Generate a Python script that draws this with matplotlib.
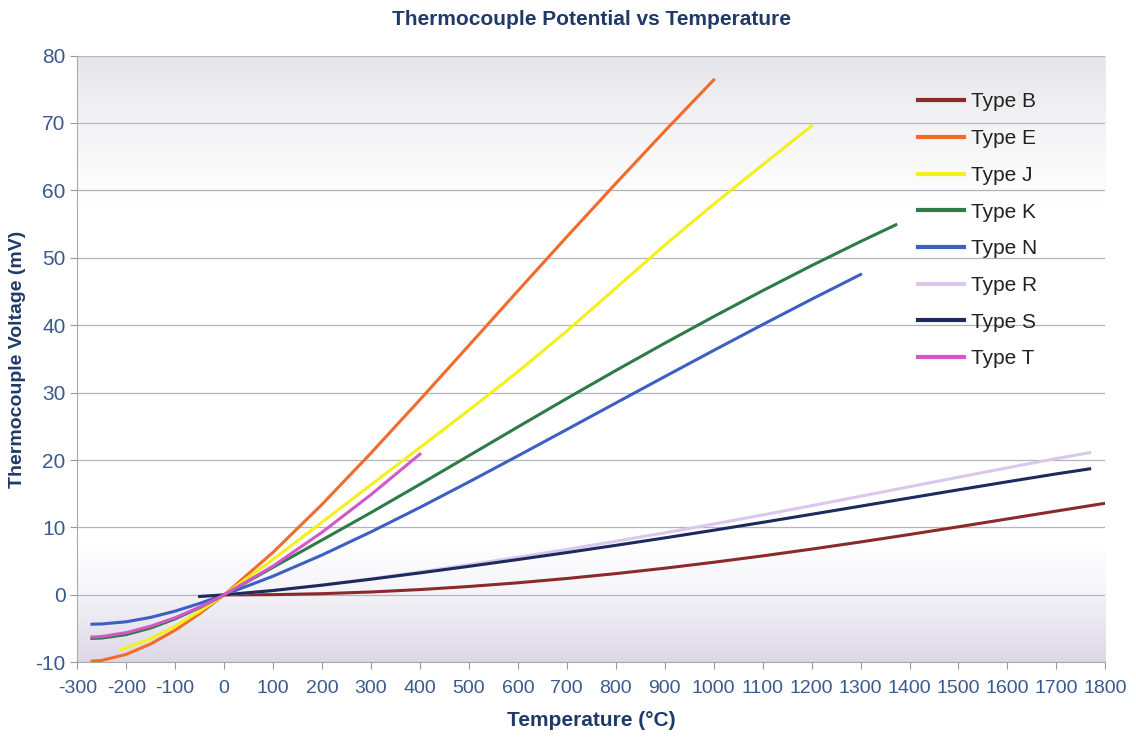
import numpy as np
import matplotlib
matplotlib.use('Agg')
import matplotlib.pyplot as plt
from matplotlib.colors import LinearSegmentedColormap

plt.rcParams['font.family'] = ['Liberation Sans', 'DejaVu Sans']
plt.rcParams['axes.unicode_minus'] = False

# thermocouple reference values, temperature (C) and EMF (mV)
temp_b = [0, 100, 200, 300, 400, 500, 600, 700, 800, 900, 1000, 1100, 1200,
          1300, 1400, 1500, 1600, 1700, 1800, 1820]
emf_b = [0.0, 0.033, 0.178, 0.431, 0.787, 1.242, 1.792, 2.431, 3.154, 3.957,
         4.834, 5.780, 6.786, 7.848, 8.956, 10.099, 11.263, 12.433, 13.591, 13.820]

temp_e = [-270, -250, -200, -150, -100, -50, 0, 100, 200, 300, 400, 500, 600,
          700, 800, 900, 1000]
emf_e = [-9.835, -9.718, -8.825, -7.279, -5.237, -2.787, 0.0, 6.319, 13.421,
         21.036, 28.946, 36.999, 45.093, 53.112, 61.017, 68.787, 76.373]

temp_j = [-210, -150, -100, -50, 0, 100, 200, 300, 400, 500, 600, 700, 800,
          900, 1000, 1100, 1200]
emf_j = [-8.095, -6.500, -4.633, -2.431, 0.0, 5.269, 10.779, 16.327, 21.848,
         27.393, 33.102, 39.132, 45.494, 51.877, 57.953, 63.792, 69.553]

temp_k = [-270, -250, -200, -150, -100, -50, 0, 100, 200, 300, 400, 500, 600,
          700, 800, 900, 1000, 1100, 1200, 1300, 1372]
emf_k = [-6.458, -6.404, -5.891, -4.913, -3.554, -1.889, 0.0, 4.096, 8.138,
         12.209, 16.397, 20.644, 24.905, 29.129, 33.275, 37.326, 41.276,
         45.119, 48.838, 52.410, 54.886]

temp_n = [-270, -250, -200, -150, -100, -50, 0, 100, 200, 300, 400, 500, 600,
          700, 800, 900, 1000, 1100, 1200, 1300]
emf_n = [-4.345, -4.313, -3.990, -3.336, -2.407, -1.269, 0.0, 2.774, 5.913,
         9.341, 12.974, 16.748, 20.613, 24.527, 28.455, 32.371, 36.256,
         40.087, 43.846, 47.513]

temp_r = [-50, 0, 100, 200, 300, 400, 500, 600, 700, 800, 900, 1000, 1100,
          1200, 1300, 1400, 1500, 1600, 1700, 1768]
emf_r = [-0.226, 0.0, 0.647, 1.469, 2.401, 3.408, 4.471, 5.583, 6.743, 7.950,
         9.205, 10.506, 11.850, 13.228, 14.629, 16.040, 17.451, 18.849,
         20.222, 21.101]

temp_s = [-50, 0, 100, 200, 300, 400, 500, 600, 700, 800, 900, 1000, 1100,
          1200, 1300, 1400, 1500, 1600, 1700, 1768]
emf_s = [-0.236, 0.0, 0.646, 1.441, 2.323, 3.259, 4.233, 5.239, 6.275, 7.345,
         8.449, 9.587, 10.757, 11.951, 13.159, 14.373, 15.582, 16.777,
         17.947, 18.693]

temp_t = [-270, -250, -200, -150, -100, -50, 0, 100, 200, 300, 400]
emf_t = [-6.258, -6.180, -5.603, -4.648, -3.379, -1.819, 0.0, 4.279, 9.288,
         14.862, 20.872]

series = [
    ('Type B', temp_b, emf_b, '#8b2a2a'),
    ('Type E', temp_e, emf_e, '#f26b2a'),
    ('Type J', temp_j, emf_j, '#f4f01c'),
    ('Type K', temp_k, emf_k, '#2e7a48'),
    ('Type N', temp_n, emf_n, '#3d5fc4'),
    ('Type R', temp_r, emf_r, '#d9c8ec'),
    ('Type S', temp_s, emf_s, '#1c2a5c'),
    ('Type T', temp_t, emf_t, '#d457c8'),
]

navy = '#1f3a68'
tick_blue = '#3a5a8c'

fig = plt.figure(figsize=(11.36, 7.4), dpi=100)
ax = fig.add_axes([0.068, 0.105, 0.905, 0.82])

# gradient background (gray top, white middle, lavender bottom)
cmap = LinearSegmentedColormap.from_list(
    'bg', [(0.0, '#dcd8e6'), (0.12, '#f6f5f9'), (0.2, '#ffffff'),
           (0.75, '#ffffff'), (0.88, '#f4f4f6'), (1.0, '#e6e6ea')])
grad = np.linspace(0, 1, 256).reshape(-1, 1)
ax.imshow(grad, aspect='auto', cmap=cmap, extent=[0, 1, 0, 1],
          transform=ax.transAxes, zorder=0, origin='lower')

for name, t, v, c in series:
    ax.plot(t, v, color=c, lw=2.2, label=name, zorder=3)

ax.set_xlim(-300, 1800)
ax.set_ylim(-10, 80)
ax.set_xticks(np.arange(-300, 1801, 100))
ax.set_yticks(np.arange(-10, 81, 10))
ax.yaxis.grid(True, color='#b4b4be', lw=0.9, zorder=1)
ax.set_axisbelow(True)

ax.tick_params(axis='both', colors='#999999', labelcolor=tick_blue,
               length=5, direction='out')
ax.tick_params(axis='y', labelsize=15)
ax.tick_params(axis='x', labelsize=14, pad=8)
for s in ['top', 'right']:
    ax.spines[s].set_visible(False)
for s in ['left', 'bottom']:
    ax.spines[s].set_color('#aaaaaa')

ax.set_title('Thermocouple Potential vs Temperature', fontsize=15,
             fontweight='bold', color=navy, pad=22)
ax.set_xlabel('Temperature (°C)', fontsize=15, fontweight='bold',
              color=navy, labelpad=10)
ax.set_ylabel('Thermocouple Voltage (mV)', fontsize=14, fontweight='bold',
              color=navy)
ax.yaxis.set_label_coords(-0.05, 0.5)

leg = ax.legend(loc='upper left', bbox_to_anchor=(0.8, 0.97), frameon=False,
                fontsize=15, handlelength=2.2, labelspacing=0.85,
                handletextpad=0.3)
for line in leg.get_lines():
    line.set_linewidth(3)
for txt in leg.get_texts():
    txt.set_color('#222222')

fig.savefig('out.png', dpi=100)
